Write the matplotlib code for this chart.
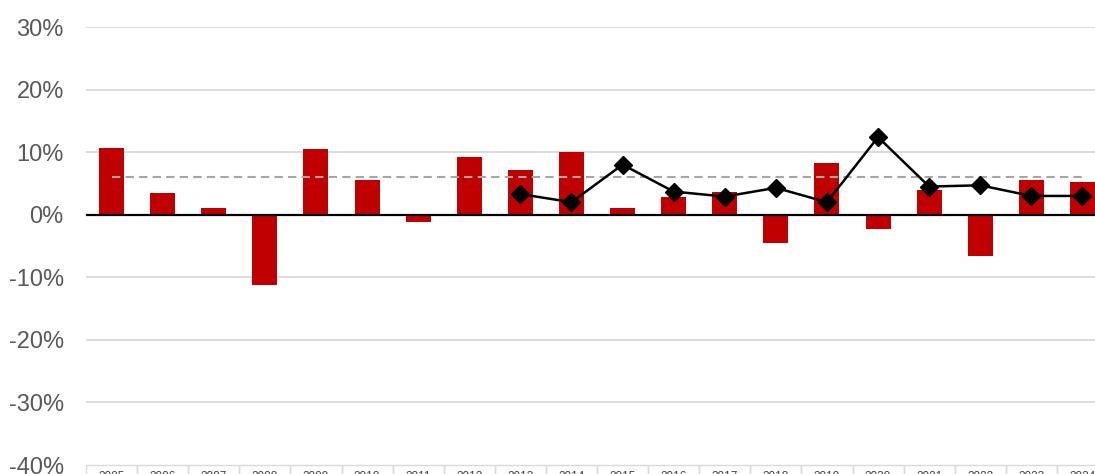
import matplotlib
matplotlib.use("Agg")
import matplotlib.pyplot as plt
from matplotlib.patches import Rectangle

plt.rcParams['font.family'] = ['Liberation Sans', 'DejaVu Sans']

years = [str(y) for y in range(2005, 2025)]
annual_returns = [10.6, 3.4, 1.0, -11.3, 10.5, 5.5, -1.2, 9.3, 7.1, 10.0,
                  1.0, 2.8, 3.7, -4.5, 8.2, -2.3, 3.9, -6.6, 5.6, 5.3]
line_years = years[8:]
line_values = [3.3, 2.0, 8.0, 3.7, 2.9, 4.3, 2.0, 12.4, 4.5, 4.7, 3.0, 3.0]
average_return = 6.0
y_ticks = [30, 20, 10, 0, -10, -20, -30, -40]

W, H = 1095, 474
fig = plt.figure(figsize=(W / 100, H / 100), dpi=100)
left_px, cat_px = 86, 51.1
top_px, bottom_px = 27, 465
ax = fig.add_axes([left_px / W, (H - bottom_px) / H,
                   len(years) * cat_px / W, (bottom_px - top_px) / H])

x = list(range(len(years)))
ax.set_xlim(-0.5, len(years) - 0.5)
ax.set_ylim(-40, 30)

for t in y_ticks[:-1]:
    ax.axhline(t, color='#d9d9d9', lw=1.3, zorder=0)

ax.bar(x, annual_returns, width=0.49, color='#c00000', zorder=2)
ax.axhline(0, color='black', lw=1.6, zorder=3)

ax.plot([x[0], x[-1]], [average_return, average_return], color='#a6a6a6',
        lw=1.5, dashes=(4, 2.5), zorder=3)

lx = [years.index(y) for y in line_years]
ax.plot(lx, line_values, color='black', lw=1.8, marker='D', ms=9,
        zorder=4)

ax.set_yticks(y_ticks)
ax.set_yticklabels([f'{t}%' for t in y_ticks], fontsize=17, color='#595959')
ax.tick_params(axis='y', length=0, pad=16)
ax.set_xticks([])
for s in ax.spines.values():
    s.set_visible(False)

# category table under the plot area
for i, lab in enumerate(years):
    ax.add_patch(Rectangle((i - 0.5, -43), 1, 3, fill=False,
                           edgecolor='#d9d9d9', lw=1.0, clip_on=False))
    ax.text(i, -41.0, lab, ha='center', va='top', fontsize=8.5,
            color='#404040', clip_on=False)

fig.savefig('out.png', dpi=100)
